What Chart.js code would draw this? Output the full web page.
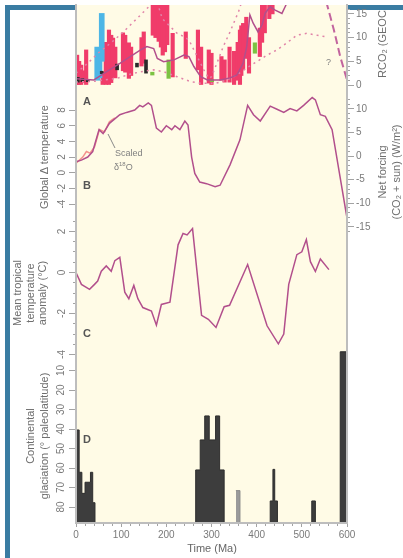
<!DOCTYPE html>
<html>
<head>
<meta charset="utf-8">
<title>Phanerozoic CO2 and climate</title>
<script src="https://cdn.jsdelivr.net/npm/chart.js@4.4.1/dist/chart.umd.min.js"></script>
<style>
  html, body { margin: 0; padding: 0; background: #fff; }
  #wrap { position: relative; width: 403px; height: 558px; overflow: hidden; font-family: "Liberation Sans", Arial, sans-serif; }
  .bar-top { position: absolute; left: 5px; top: 5px; width: 398px; height: 5px; background: #3a7ca2; }
  .bar-left { position: absolute; left: 5px; top: 5px; width: 5px; height: 553px; background: #3a7ca2; }
  #chart { position: absolute; left: 0; top: 0; }
  .txt { position: absolute; color: #6e6e6e; font-size: 11px; line-height: 13px; white-space: nowrap; }
  .vert { transform: translate(-50%, -50%) rotate(-90deg); text-align: center; }
  .mid { transform: translate(-50%, -50%); }
  .panel { font-weight: bold; font-size: 11px; color: #555; }
  .note { font-size: 9px; color: #808080; line-height: 10px; }
</style>
</head>
<body>
<div id="wrap">
  <div class="bar-top"></div>
  <div class="bar-left"></div>
  <canvas id="chart" width="403" height="558"></canvas>

  <div class="txt vert" style="left:44px; top:157px;">Global Δ temperature</div>
  <div class="txt vert" style="left:30px; top:293px; line-height:12.5px;">Mean tropical<br>temperature<br>anomaly (°C)</div>
  <div class="txt vert" style="left:37px; top:436px; line-height:14px;">Continental<br>glaciation (° paleolatitude)</div>
  <div class="txt vert" style="left:389px; top:172px; line-height:14px;">Net forcing<br>(CO₂ + sun) (W/m²)</div>
  <div style="position:absolute; left:350px; top:10px; width:53px; height:90px; overflow:hidden;">
    <div class="txt" style="left:26px; top:68px; transform-origin:0 0; transform:rotate(-90deg);">RCO₂ (GEOCARB III)</div>
  </div>
  <div class="txt mid" style="left:212px; top:548px; color:#666;">Time (Ma)</div>

  <div class="txt mid panel" style="left:87px; top:101px;">A</div>
  <div class="txt mid panel" style="left:87px; top:185px;">B</div>
  <div class="txt mid panel" style="left:87px; top:333px;">C</div>
  <div class="txt mid panel" style="left:87px; top:439px;">D</div>

  <div class="txt note" style="left:115px; top:148px;">Scaled</div>
  <div class="txt note" style="left:114px; top:159px;">δ<sup style="font-size:6px">18</sup>O</div>
  <div class="txt note" style="left:326px; top:57px;">?</div>
  <svg style="position:absolute; left:0; top:0;" width="403" height="558">
    <line x1="108" y1="134" x2="115" y2="148" stroke="#888" stroke-width="1"/>
  </svg>
</div>

<script>
// Panel A - GEOCARB RCO2 (right axis) with error envelope
const geocarbAge  = [0, 39, 68, 98, 120, 143, 157, 172, 180, 194, 217, 239, 250, 261, 276, 291, 302, 319, 341, 356, 370, 378, 385, 392, 403, 412, 419, 430, 441, 456, 463, 475, 500, 530, 545];
const geocarbRco2 = [1.3, 1.05, 2.8, 4.6, 6.0, 7.4, 8.1, 7.7, 5.6, 4.9, 5.3, 6.3, 6.0, 3.9, 1.75, 1.05, 1.05, 1.05, 1.5, 2.1, 4.6, 8.1, 14.8, 13.1, 11.2, 12.7, 15.2, 16.5, 15.8, 15.1, 16.5, 19, 21, 21, 20];
const tailAge  = [545, 556, 571, 585, 600];
const tailRco2 = [20, 16.9, 11.6, 6.0, 1.05];
const upperAge  = [0, 25, 50, 80, 105, 124, 139, 161, 175, 191, 209, 224, 239, 250, 261, 272, 283, 294, 300, 312, 326, 341, 352, 360, 375];
const upperRco2 = [2.5, 4.5, 6.8, 9.1, 11.2, 13.0, 14.4, 16.5, 19, 14.0, 12.3, 10.9, 10.2, 9.5, 7.4, 5.3, 3.2, 1.4, 1.75, 4.6, 8.1, 11.2, 13.7, 15.5, 20];
const lowerAge  = [0, 40, 91, 113, 143, 172, 194, 224, 254, 276, 311, 334, 356, 378, 400, 423, 445, 467, 489, 511, 534, 552];
const lowerRco2 = [0.6, 0.8, 1.4, 2.1, 2.8, 3.2, 2.8, 1.75, 0.7, 0.35, 0.4, 1.05, 2.1, 3.6, 4.9, 6.3, 7.4, 8.9, 10.5, 10.9, 10.5, 10.2];

// Panel A - proxy CO2 ranges
const redAge  = [2.5, 7, 11.5, 17, 22.5, 59, 66, 73, 78, 82, 87, 104, 109, 117, 122, 145, 150, 170, 176, 183, 188, 192, 197, 202, 214, 243, 270, 277, 294, 300, 322, 329, 340, 350, 358, 363, 366, 370, 377, 383, 407, 412, 418, 428, 435];
const redLow  = [0, 0, 0, 0.5, 0, 0, 0, 0, 0.5, 1.7, 1.5, 3, 2.7, 1.4, 2, 4, 4.6, 10.5, 10, 9.2, 8, 6.3, 7, 8.5, 1.7, 5.6, 3.2, 0, 0.4, 0, 1.0, 0.6, 0.6, 0, 1, 0, 2, 3.2, 5.6, 2.5, 6, 9, 11, 14, 15];
const redHigh = [6.3, 5, 4.2, 3, 7.4, 2.7, 9, 11.6, 10.5, 9.9, 8, 11, 10.5, 8.9, 8, 10, 11.2, 25, 25, 25, 25, 25, 25, 25, 10.9, 11.2, 11.6, 8, 7.4, 6.7, 6.0, 5.3, 8, 7.1, 9, 11.6, 12.5, 13, 14.3, 10, 12, 25, 25, 25, 25];
const blueAge  = [47, 52, 57];
const blueLow  = [1.0, 1.5, 5.0];
const blueHigh = [8.0, 6.5, 15.1];
const blackAge  = [4, 14, 26, 57, 91, 135, 155];
const blackLow  = [0.6, 0.7, 0.7, 2.4, 3.2, 3.8, 2.5];
const blackHigh = [1.6, 1.4, 1.2, 2.9, 4.4, 4.6, 5.3];
const greenAge  = [3, 169, 205, 301, 396];
const greenLow  = [0.9, 2.1, 1.4, 0.7, 6.7];
const greenHigh = [1.3, 2.7, 5.3, 1.1, 8.9];

// Panel B - global temperature and scaled d18O
const tempAge = [0, 12, 26, 37, 51, 60, 74, 97, 112, 130, 141, 148, 160, 167, 178, 189, 200, 212, 219, 230, 241, 248, 256, 263, 274, 289, 308, 319, 341, 363, 380, 393, 408, 430, 445, 460, 474, 489, 504, 523, 530, 541, 552, 567, 600];
const tempVal = [1.4, 1.6, 2.0, 2.7, 5.5, 5.0, 6.3, 7.4, 7.7, 8.0, 8.6, 8.4, 8.9, 8.6, 5.7, 5.2, 6.0, 5.5, 6.0, 5.5, 6.6, 6.1, 2.0, -0.1, -1.2, -1.4, -1.8, -1.6, 1.0, 4.2, 8.6, 7.4, 6.6, 8.5, 8.1, 7.7, 8.2, 7.9, 8.6, 9.6, 9.3, 7.4, 7.2, 5.5, -5.8];
const d18Age = [0, 15, 23, 31, 41, 52, 63, 74, 86];
const d18Val = [1.2, 2.0, 2.7, 2.5, 3.3, 5.5, 5.2, 6.5, 7.0];

// Panel C - mean tropical temperature anomaly
const tropAge = [0, 12, 30, 41, 48, 56, 67, 78, 86, 97, 108, 117, 128, 137, 148, 167, 178, 189, 208, 226, 237, 246, 258, 278, 293, 310, 328, 340, 380, 423, 448, 460, 471, 489, 500, 510, 519, 530, 541, 560];
const tropVal = [0, -0.58, -0.82, -0.58, -0.42, 0.06, 0.32, 0.06, 0.58, 0.74, -0.96, -1.28, -0.63, -1.28, -1.71, -1.88, -2.57, -1.56, -1.45, 1.35, 1.9, 1.83, 2.14, -2.09, -2.28, -2.68, -1.67, -1.6, 0.39, -2.6, -3.48, -3.0, -0.58, 0.87, 1.01, 1.61, 0.53, 0.05, 0.66, 0.14];

// Panel D - continental glaciation (paleolatitude reached, 90 = none)
const glacAge = [0, 7, 13, 20, 32, 37, 42, 265, 275, 285, 295, 309, 318, 328, 430, 436, 440, 446, 522, 530, 585, 600];
const glacLat = [40.5, 62.2, 73, 67.3, 62.2, 77.8, 90, 61, 45.6, 33.3, 45.6, 33.3, 61, 90, 76.9, 60.7, 76.9, 90, 76.9, 90, 0.4, 0.4];
const greyAge = [354, 363];
const greyLat = [71.6, 90];

// tick values
const ageTicks = [0, 100, 200, 300, 400, 500, 600];
const ageMinor = [];
for (let a = 0; a <= 600; a += 20) ageMinor.push(a);
const rco2Ticks = [0, 5, 10, 15];
const rco2Minor = [];
for (let v = 0; v <= 16; v++) rco2Minor.push(v);
const forcingTicks = [-15, -10, -5, 0, 5, 10];
const forcingMinor = [];
for (let v = -16; v <= 12; v++) forcingMinor.push(v);
const tempTicks = [-4, -2, 0, 2, 4, 6, 8];
const tropTicks = [-4, -2, 0, 2];
const tropMinor = [];
for (let v = -4; v <= 2.5; v += 0.5) tropMinor.push(v);
const glacTicks = [10, 20, 30, 40, 50, 60, 70, 80];

// plot area in pixels; each panel axis spans it, scaled to its own band
const AREA_TOP = 5, AREA_BOTTOM = 523;
function span(zeroPx, pxPerUnit) {
    return { min: -(AREA_BOTTOM - zeroPx) / pxPerUnit, max: (zeroPx - AREA_TOP) / pxPerUnit };
}

const tickFont = { family: '"Liberation Sans", Arial, sans-serif', size: 10 };

function axis(o) {
    const s = {
        type: 'linear',
        position: o.position,
        min: o.min,
        max: o.max,
        reverse: !!o.reverse,
        bounds: 'data',
        offset: false,
        weight: o.weight || 0,
        afterBuildTicks: sc => { sc.ticks = o.ticks.map(v => ({ value: v })); },
        afterFit: sc => {
            // all axes sit on the plot edge with no box of their own
            if (o.position === 'bottom') sc.height = 0; else sc.width = 0;
            sc.paddingTop = 0; sc.paddingBottom = 0; sc.paddingLeft = 0; sc.paddingRight = 0;
            // so labels must not be clipped to the (empty) box
            sc._computeLabelArea = () => null;
        },
        grid: { drawOnChartArea: false, drawTicks: true, tickLength: o.tick, color: '#a3a3a3', tickColor: '#a3a3a3', lineWidth: 1, offset: false },
        border: { display: !!o.border, color: '#bdbdbd', width: 2, z: 1 },
        ticks: {
            display: !!o.labels, autoSkip: false, padding: 2, color: '#7a7a7a', font: tickFont,
            minRotation: o.rot || 0, maxRotation: o.rot || 0, crossAlign: o.rot ? 'center' : 'near'
        }
    };
    if (o.position !== 'bottom') s.stacked = false;
    return s;
}

const spanA = span(85, 4.74);
const spanBr = span(156, 4.72);
const spanB = span(172.7, 7.83);
const spanC = span(272.5, 20.5);
const spanD = { min: -(351 - AREA_TOP) / 1.95, max: (AREA_BOTTOM - 351) / 1.95 };

function pts(xs, ys) { return xs.map((x, i) => ({ x: x, y: ys[i] })); }

function line(ages, vals, yAxisID, color, extra) {
    return Object.assign({
        type: 'line', data: pts(ages, vals), xAxisID: 'x', yAxisID: yAxisID,
        borderColor: color, borderWidth: 1.5, pointRadius: 0, tension: 0, fill: false
    }, extra || {});
}

function bars(ages, lo, hi, color, thick, order) {
    return {
        type: 'bar', data: ages.map((x, i) => ({ x: x, y: [lo[i], hi[i]] })),
        xAxisID: 'x', yAxisID: 'yA', backgroundColor: color, borderWidth: 0,
        barThickness: thick, stack: 'proxy', grouped: true, order: order
    };
}

const creamBg = {
    id: 'creamBg',
    beforeDraw(chart) {
        const { ctx, chartArea: a } = chart;
        ctx.save();
        ctx.fillStyle = '#fffbe6';
        ctx.fillRect(a.left, a.top, a.right - a.left, a.bottom - a.top);
        ctx.restore();
    }
};

new Chart(document.getElementById('chart'), {
    type: 'line',
    data: {
        datasets: [
            line(geocarbAge, geocarbRco2, 'yA', '#b24f8c', { order: 0 }),
            line(tailAge, tailRco2, 'yA', '#c2649e', { order: 0, borderWidth: 2, borderDash: [8, 4] }),
            line(upperAge, upperRco2, 'yA', '#e184a8', { order: 1, borderDash: [2, 4] }),
            line(lowerAge, lowerRco2, 'yA', '#e184a8', { order: 1, borderDash: [2, 4] }),
            bars(blackAge, blackLow, blackHigh, '#2b2b2b', 3, 2),
            bars(greenAge, greenLow, greenHigh, '#7cc242', 3.5, 2),
            bars(blueAge, blueLow, blueHigh, '#4db6e6', 5, 3),
            bars(redAge, redLow, redHigh, '#f03c6a', 3.5, 4),
            line(tempAge, tempVal, 'yB', '#b24f8c', { order: 0 }),
            line(d18Age, d18Val, 'yB', 'rgba(240,110,110,0.75)', { order: 1 }),
            line(tropAge, tropVal, 'yC', '#b24f8c', { order: 0 }),
            line(glacAge, glacLat, 'yD', '#2e2e2e', { order: 5, stepped: true, borderWidth: 1, backgroundColor: '#3d3d3d', fill: { value: 90 }, clip: 0 }),
            line(greyAge, greyLat, 'yD', '#8a8a8a', { order: 5, stepped: true, borderWidth: 1, backgroundColor: '#9a9a9a', fill: { value: 90 }, clip: 0 })
        ]
    },
    options: {
        responsive: false,
        animation: false,
        layout: { padding: { left: 76, right: 56, top: AREA_TOP, bottom: 558 - AREA_BOTTOM } },
        plugins: { legend: { display: false }, tooltip: { enabled: false } },
        scales: {
            x: axis({ position: 'bottom', min: 0, max: 600, ticks: ageTicks, tick: 4, labels: true, border: true }),
            xm: axis({ position: 'bottom', min: 0, max: 600, ticks: ageMinor, tick: 3 }),
            yA: axis({ position: 'right', min: spanA.min, max: spanA.max, ticks: rco2Ticks, tick: 7, labels: true, border: true }),
            yAm: axis({ position: 'right', min: spanA.min, max: spanA.max, ticks: rco2Minor, tick: 3 }),
            yBr: axis({ position: 'right', min: spanBr.min, max: spanBr.max, ticks: forcingTicks, tick: 7, labels: true }),
            yBrm: axis({ position: 'right', min: spanBr.min, max: spanBr.max, ticks: forcingMinor, tick: 3 }),
            yB: axis({ position: 'left', min: spanB.min, max: spanB.max, ticks: tempTicks, tick: 7, labels: true, rot: 90, border: true }),
            yC: axis({ position: 'left', min: spanC.min, max: spanC.max, ticks: tropTicks, tick: 7, labels: true, rot: 90 }),
            yCm: axis({ position: 'left', min: spanC.min, max: spanC.max, ticks: tropMinor, tick: 3 }),
            yD: axis({ position: 'left', min: spanD.min, max: spanD.max, reverse: true, ticks: glacTicks, tick: 7, labels: true, rot: 90 })
        }
    },
    plugins: [creamBg]
});
</script>
</body>
</html>
